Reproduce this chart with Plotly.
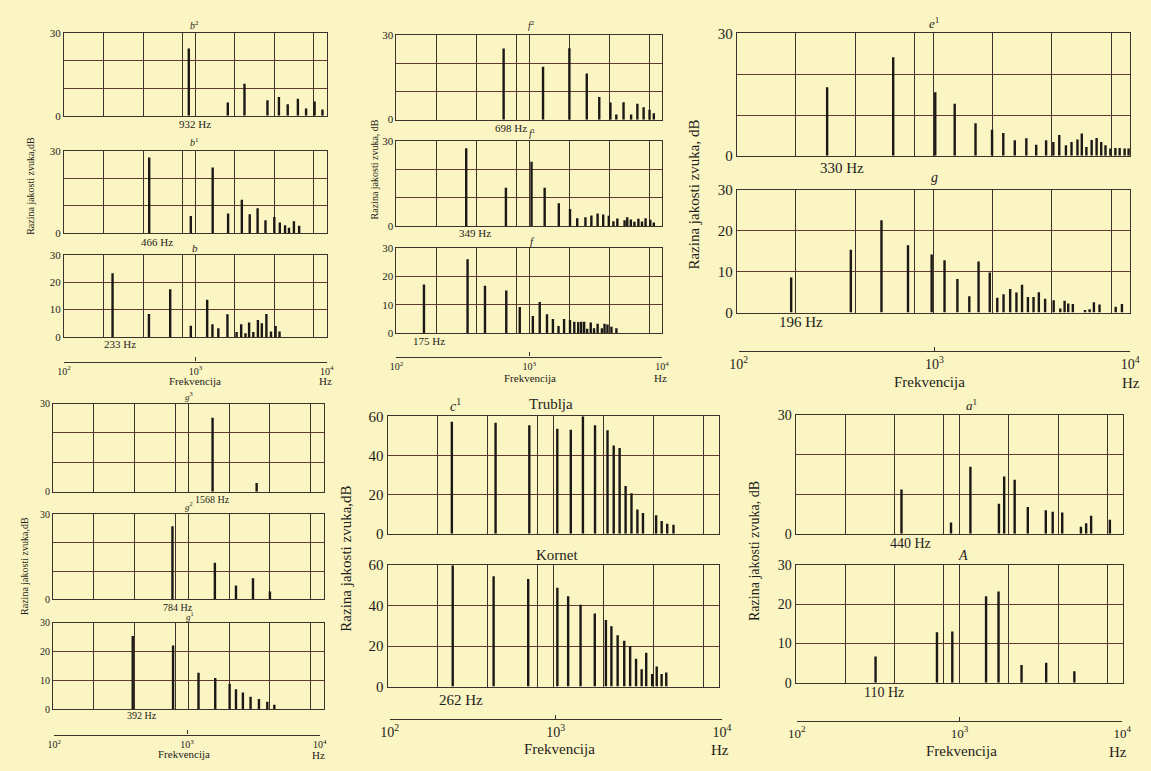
import plotly.graph_objects as go

W, H = 1151, 771

# ---------------- data (frequency in Hz, level in dB) ----------------
b2_freq = [891, 1766, 2366, 3540, 4328, 5050, 6036, 6970, 8090, 9290]
b2_level = [24.5, 4.8, 11.7, 5.6, 6.8, 4.2, 6.2, 2.6, 5.2, 2.3]
b1_freq = [445, 923, 1355, 1775, 2259, 2594, 2978, 3420, 3992, 4397, 4820, 5165, 5630, 6170]
b1_level = [27.6, 6.3, 24.0, 7.2, 12.2, 6.9, 9.1, 4.7, 5.9, 3.9, 2.9, 2.0, 4.4, 2.7]
b_freq = [234, 443, 643, 923, 1230, 1349, 1496, 1755, 2060, 2233, 2408, 2566, 2763, 2994,
          3207, 3475, 3767, 4083, 4375]
b_level = [23.3, 8.4, 17.4, 4.1, 13.6, 4.7, 3.2, 8.3, 1.8, 4.7, 1.4, 5.3, 1.8, 6.2,
           5.0, 8.4, 2.0, 4.0, 2.0]

f2_freq = [641, 1270, 2005, 2711, 3367, 4085, 4525, 5130, 5850, 6520, 7265, 8050, 8670]
f2_level = [25.3, 18.8, 25.4, 16.4, 8.1, 6.1, 1.8, 6.2, 1.8, 5.7, 4.4, 3.5, 2.3]
f1_freq = [335, 667, 1040, 1306, 1669, 2027, 2297, 2649, 2936, 3271, 3604, 3971, 4303, 4605,
           5223, 5470, 5822, 6196, 6637, 7066, 7520, 8147, 8670]
f1_level = [27.5, 13.6, 22.8, 13.6, 8.1, 6.1, 2.9, 3.2, 3.8, 4.5, 4.2, 3.7, 1.8, 2.8,
            2.2, 3.2, 2.4, 1.6, 2.7, 1.7, 2.9, 2.3, 1.4]
f_freq = [161, 343, 464, 671, 848, 1064, 1199, 1360, 1507, 1661, 1829, 2027, 2183, 2337,
          2461, 2590, 2729, 2904, 3075, 3273, 3525, 3690, 3882, 4159, 4530]
f_level = [17.1, 26.0, 16.7, 15.0, 9.2, 6.0, 11.0, 6.6, 5.0, 2.5, 5.0, 4.6, 4.0, 3.9,
           4.0, 4.0, 1.5, 3.7, 1.7, 3.3, 1.7, 3.3, 3.0, 2.2, 1.7]

e1_freq = [288, 624, 1021, 1282, 1636, 1985, 2264, 2590, 2965, 3328, 3737, 4067, 4360, 4713,
           5032, 5395, 5675, 5990, 6370, 6750, 7125, 7490, 7930, 8410, 8840, 9370, 9815]
e1_level = [16.8, 24.2, 15.6, 12.8, 8.0, 6.4, 5.6, 3.8, 4.3, 2.7, 3.8, 3.4, 5.1, 2.6,
            3.4, 4.0, 5.5, 2.2, 3.9, 4.4, 3.4, 2.6, 1.8, 1.9, 1.9, 1.8, 1.8]
g_freq = [189, 380, 544, 742, 979, 1138, 1323, 1521, 1695, 1933, 2110, 2271, 2454, 2641,
          2820, 3021, 3226, 3433, 3694, 4083, 4411, 4640, 4842, 5110, 5892, 6220, 6540,
          6985, 8440, 9080]
g_level = [8.6, 15.4, 22.6, 16.5, 14.2, 12.8, 8.2, 4.0, 12.5, 9.8, 3.6, 4.5, 5.8, 4.9,
           6.8, 3.8, 3.8, 5.0, 3.4, 3.0, 1.0, 2.9, 2.2, 2.1, 0.6, 0.8, 2.5, 2.0, 1.4, 2.1]

g3_freq = [1507, 3192]
g3_level = [25.2, 3.0]
g2_freq = [761, 1567, 2245, 2999, 4000]
g2_level = [25.8, 12.9, 4.9, 7.5, 2.8]
g1_freq = [387, 769, 1186, 1577, 2015, 2245, 2525, 2878, 3318, 3826, 4312]
g1_level = [25.5, 22.2, 12.7, 10.8, 8.8, 6.9, 5.8, 4.3, 3.5, 2.6, 1.5]

trub_freq = [244, 448, 716, 1056, 1274, 1508, 1784, 2122, 2313, 2511, 2728, 2961, 3215,
             3473, 4169, 4503, 4865, 5307]
trub_level = [57.2, 56.7, 55.4, 53.7, 53.2, 60.0, 55.4, 52.9, 45.1, 43.8, 24.4, 20.7, 12.4,
              10.6, 9.5, 6.6, 5.1, 4.6]
korn_freq = [247, 436, 705, 1057, 1228, 1459, 1778, 2075, 2240, 2443, 2677, 2906, 3155,
             3410, 3633, 3945, 4205, 4500, 4800]
korn_level = [60.0, 54.5, 53.2, 48.8, 44.7, 40.5, 36.1, 32.9, 29.8, 25.4, 22.7, 19.9, 13.8,
              8.6, 16.7, 6.2, 10.0, 6.2, 7.0]

a1_freq = [442, 887, 1165, 1740, 1873, 2171, 2611, 3363, 3706, 4236, 5510, 5932, 6360, 8280]
a1_level = [11.2, 2.9, 17.0, 7.6, 14.5, 13.7, 6.8, 6.0, 5.6, 5.4, 1.8, 2.7, 4.6, 3.6]
A_freq = [307, 728, 903, 1452, 1730, 2391, 3381, 5025]
A_level = [6.7, 12.9, 13.1, 22.1, 23.3, 4.5, 5.1, 2.9]

grid_freqs = [200, 400, 800, 1000, 2000, 4000, 8000]
freq_tick_vals = [100, 1000, 10000]
freq_tick_text = ["10<sup>2</sup>", "10<sup>3</sup>", "10<sup>4</sup>"]

# ---------------- style ----------------
BG = "#faf5c3"
FRAME = "#3d332c"
HGRID = "#633a31"
BAR = "#1b1916"
TXT = "#1f1d1a"
FONT = "Liberation Serif"


def px(x):
    return x / W


def py(y):
    return 1 - y / H


fig = go.Figure()
layout = dict(
    width=W, height=H, margin=dict(l=0, r=0, t=0, b=0),
    paper_bgcolor=BG, plot_bgcolor=BG, showlegend=False,
    font=dict(family=FONT, color=TXT),
)
annotations = []

panels = [
    # freq, level, x-range px, y-range px, ymax, full ticks, font size
    (b2_freq, b2_level, (56, 323), (26, 110), 30, False, 11),
    (b1_freq, b1_level, (56, 323), (146, 230), 30, False, 11),
    (b_freq, b_level, (56, 323), (252, 336), 30, True, 11),
    (f2_freq, f2_level, (394, 664), (28, 114), 30, False, 11),
    (f1_freq, f1_level, (394, 664), (136, 223), 30, False, 11),
    (f_freq, f_level, (394, 664), (245, 332), 30, True, 11),
    (e1_freq, e1_level, (740, 1140), (26, 151), 30, False, 15),
    (g_freq, g_level, (740, 1140), (186, 311), 30, True, 15),
    (g3_freq, g3_level, (45, 320), (404, 494), 30, False, 10),
    (g2_freq, g2_level, (45, 320), (517, 604), 30, False, 10),
    (g1_freq, g1_level, (45, 320), (628, 716), 30, True, 10),
    (trub_freq, trub_level, (385, 722), (417, 537), 60, True, 15),
    (korn_freq, korn_level, (385, 722), (569, 693), 60, True, 15),
    (a1_freq, a1_level, (800, 1133), (416, 537), 30, False, 14),
    (A_freq, A_level, (800, 1133), (569, 689), 30, True, 14),
]

k = 0
for freq, level, (x0, x1), (y0, y1), ymax, full, fs in panels:
    k += 1
    xs, ys = [], []
    for f, v in zip(freq, level):
        xs += [f, f, None]
        ys += [0, v, None]
    fig.add_trace(go.Scatter(x=xs, y=ys, mode="lines", line=dict(color=BAR, width=2.4),
                             xaxis=f"x{k}", yaxis=f"y{k}", hoverinfo="skip"))
    step = ymax / 3
    tv = [0, step, 2 * step, ymax]
    tt = [f"{int(t)}" for t in tv] if full else ["0", "", "", f"{int(ymax)}"]
    layout[f"xaxis{k}"] = dict(
        domain=[px(x0), px(x1)], anchor=f"y{k}", type="log", range=[2, 4],
        showticklabels=False, ticks="", tickvals=grid_freqs, showgrid=True,
        gridcolor=FRAME, gridwidth=1, showline=True, mirror=True, linecolor=FRAME,
        linewidth=1.3, zeroline=False, fixedrange=True,
    )
    layout[f"yaxis{k}"] = dict(
        domain=[py(y1), py(y0)], anchor=f"x{k}", range=[0, ymax], tickvals=tv,
        ticktext=tt, ticks="", showgrid=True, gridcolor=HGRID, gridwidth=1.2,
        showline=True, mirror=True, linecolor=FRAME, linewidth=1.3, zeroline=False,
        tickfont=dict(size=fs, family=FONT, color=TXT), fixedrange=True,
    )

# frequency axes below each group
freq_axes = [
    ((56, 323), 361, 10), ((394, 664), 356, 10), ((742, 1140), 350, 14),
    ((46, 316), 742, 10), ((387, 725), 726, 14), ((801, 1132), 728, 13),
]
for (x0, x1), yl, fs in freq_axes:
    k += 1
    fig.add_trace(go.Scatter(x=[], y=[], xaxis=f"x{k}", yaxis=f"y{k}"))
    layout[f"xaxis{k}"] = dict(
        domain=[px(x0), px(x1)], anchor=f"y{k}", type="log", range=[2, 4],
        tickvals=freq_tick_vals, ticktext=freq_tick_text, ticks="inside", ticklen=4,
        tickcolor=FRAME, showgrid=False, showline=True, linecolor=FRAME, linewidth=1.3,
        zeroline=False, tickfont=dict(size=fs, family=FONT, color=TXT), fixedrange=True,
    )
    layout[f"yaxis{k}"] = dict(domain=[py(yl), py(yl - 3)], anchor=f"x{k}", visible=False,
                               fixedrange=True)


def note(text, x, y, size, angle=0):
    annotations.append(dict(text=text, x=px(x), y=py(y), xref="paper", yref="paper",
                            xanchor="center", yanchor="middle", showarrow=False,
                            textangle=angle,
                            font=dict(size=size, family=FONT, color=TXT)))


# panel titles
note("<i>b</i><sup>2</sup>", 189, 17, 10)
note("<i>b</i><sup>1</sup>", 189, 137, 10)
note("<i>b</i>", 189, 245, 11)
note("<i>f</i><sup>2</sup>", 531, 17, 10)
note("<i>f</i><sup>1</sup>", 532, 128, 10)
note("<i>f</i>", 532, 238, 11)
note("<i>e</i><sup>1</sup>", 941, 15, 13)
note("<i>g</i>", 941, 173, 14)
note("<i>g</i><sup>3</sup>", 183, 396, 9)
note("<i>g</i><sup>2</sup>", 183, 509, 9)
note("<i>g</i><sup>1</sup>", 184, 621, 9)
note("<i>c</i><sup>1</sup>", 454, 405, 14)
note("Trublja", 551, 404, 15)
note("Kornet", 557, 559, 15)
note("<i>a</i><sup>1</sup>", 979, 405, 13)
note("<i>A</i>", 970, 559, 14)

# fundamental labels
note("932 Hz", 189, 118, 11)
note("466 Hz", 150, 239, 11)
note("233 Hz", 113, 343, 11)
note("698 Hz", 510, 123, 11)
note("349 Hz", 474, 230, 11)
note("175 Hz", 427, 340, 11)
note("330 Hz", 847, 163, 15)
note("196 Hz", 805, 321, 15)
note("1568 Hz", 207, 502, 10)
note("784 Hz", 172, 612, 10)
note("392 Hz", 135, 723, 10)
note("262 Hz", 460, 707, 15)
note("440 Hz", 917, 547, 14)
note("110 Hz", 890, 699, 14)

# axis titles
for xx, yy, size in [(189, 381, 11), (530, 378, 11), (936, 382, 15), (178, 762, 11),
                     (560, 757, 15), (968, 759, 15)]:
    note("Frekvencija", xx, yy, size)
for xx, yy, size in [(322, 381, 11), (662, 378, 11), (1141, 383, 15), (315, 763, 11),
                     (723, 758, 15), (1128, 760, 15)]:
    note("Hz", xx, yy, size)
for xx, yy, size, txt in [(22, 182, 10, "Razina jakosti zvuka,dB"),
                          (372, 165, 10, "Razina jakosti zvuka, dB"),
                          (697, 190, 15, "Razina jakosti zvuka, dB"),
                          (15, 570, 10, "Razina jakosti zvuka,dB"),
                          (343, 562, 15, "Razina jakosti zvuka,dB"),
                          (758, 554, 14, "Razina jakosti zvuka, dB")]:
    note(txt, xx, yy, size, angle=-90)

layout["annotations"] = annotations
fig.update_layout(**layout)
fig.write_html("out.html", config={"displayModeBar": False},
               post_script="document.body.style.margin='0';")
